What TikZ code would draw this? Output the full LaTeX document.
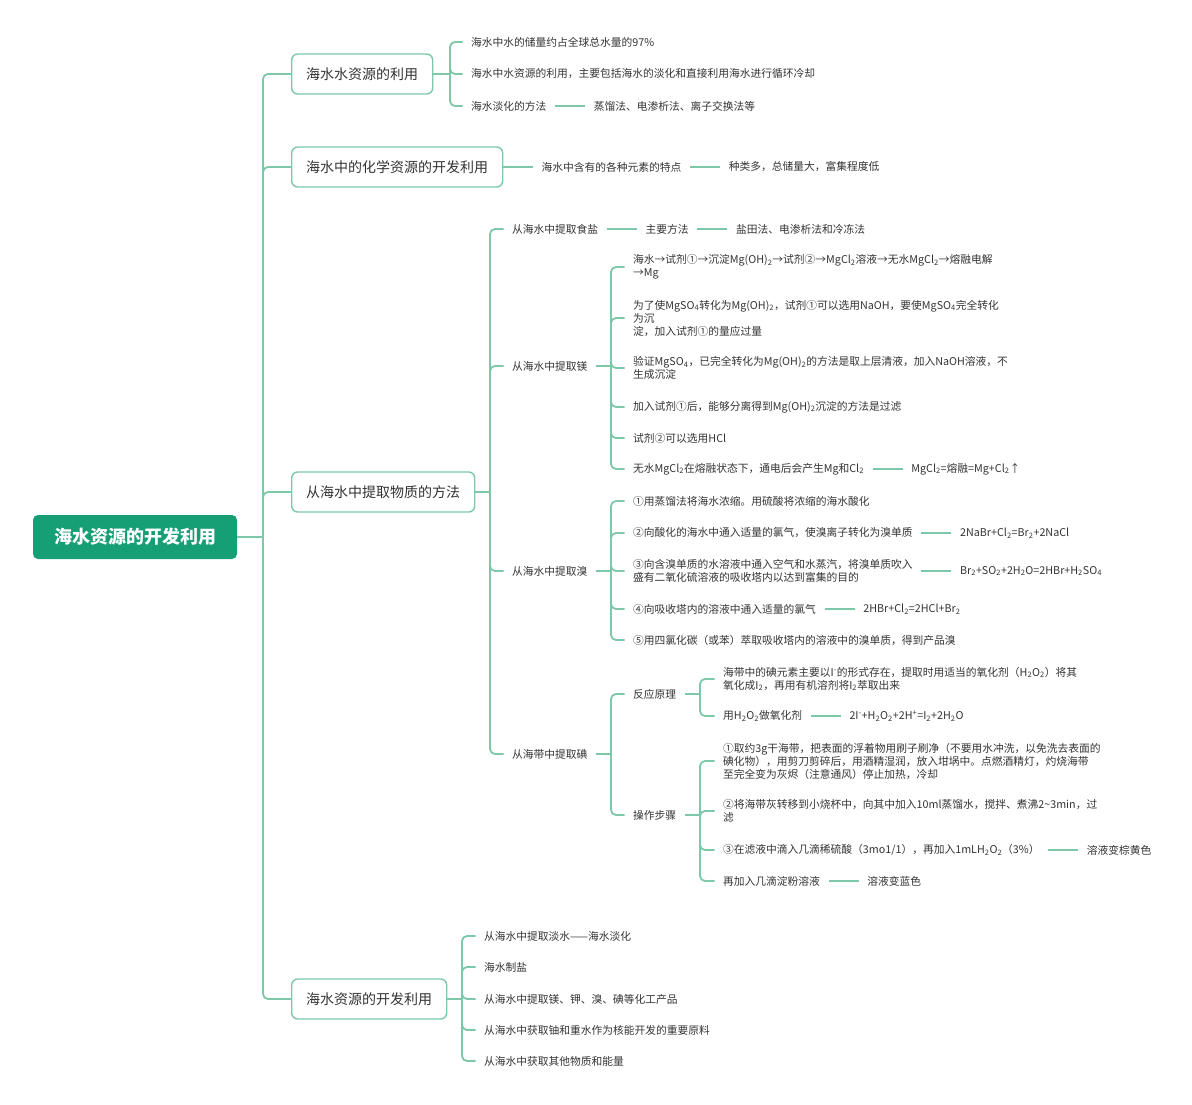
\documentclass[tikz,border=0pt]{standalone}
\usepackage{fontspec}
\setmainfont{Noto Sans CJK SC}
\usetikzlibrary{positioning}
\definecolor{lnc}{HTML}{7CC8A8}
\definecolor{rootc}{HTML}{169E74}
\definecolor{txt}{HTML}{333333}
\newcommand\xsb[1]{\textsubscript{#1}}
\newcommand\xsp[1]{\textsuperscript{#1}}
\begin{document}
\begin{tikzpicture}[x=1pt,y=-1pt,
  conn/.style={draw=lnc, line width=1.8pt, rounded corners=5pt},
  rootbox/.style={fill=rootc, rounded corners=5pt, text=white, font=\fontsize{18}{22}\selectfont\bfseries, minimum height=44pt, inner xsep=21pt},
  topbox/.style={draw=lnc, line width=1.4pt, rounded corners=6pt, fill=white, text=txt, font=\fontsize{14}{17}\selectfont, minimum height=40pt, inner xsep=14.5pt, anchor=west},
  leaf/.style={anchor=west, inner xsep=8.5pt, inner ysep=1pt, text=txt, font=\fontsize{10.75}{13}\selectfont, align=left},
  nxt/.style={leaf, right=30pt of #1},
]
\useasboundingbox (0,0) rectangle (1192,1105);

% root and level 1
\node[rootbox] (root) at (135,537) {海水资源的开发利用};
\node[topbox] (b1) at (291,74) {海水水资源的利用};
\node[topbox] (b2) at (291,167) {海水中的化学资源的开发利用};
\node[topbox] (b3) at (291,492) {从海水中提取物质的方法};
\node[topbox] (b4) at (291,999) {海水资源的开发利用};
\coordinate (tr) at (263,537);
\draw[conn] (root.east) -- (tr);
\foreach \b in {b1,b2,b3,b4} \draw[conn] (tr) |- (\b.west);

% group 1
\node[leaf] (a1) at (462.5,42) {海水中水的储量约占全球总水量的97\%};
\node[leaf] (a2) at (462.5,74) {海水中水资源的利用，主要包括海水的淡化和直接利用海水进行循环冷却};
\node[leaf] (a3) at (462.5,106) {海水淡化的方法};
\node[nxt=a3] (a3b) {蒸馏法、电渗析法、离子交换法等};
\draw[conn] (a3.east) -- (a3b.west);
\coordinate (k1) at (450,74);
\draw[conn] (b1.east) -- (k1);
\foreach \c in {a1,a2,a3} \draw[conn] (k1) |- (\c.west);

% group 2
\node[leaf, right=29.5pt of b2] (c1) {海水中含有的各种元素的特点};
\node[nxt=c1] (c2) {种类多，总储量大，富集程度低};
\draw[conn] (b2.east) -- (c1.west);
\draw[conn] (c1.east) -- (c2.west);

% group 3
\node[leaf] (s1) at (503.5,229) {从海水中提取食盐};
\node[nxt=s1] (s1b) {主要方法};
\node[nxt=s1b] (s1c) {盐田法、电渗析法和冷冻法};
\draw[conn] (s1.east) -- (s1b.west);
\draw[conn] (s1b.east) -- (s1c.west);
\node[leaf] (mg) at (503.5,366) {从海水中提取镁};
\node[leaf] (br) at (503.5,571) {从海水中提取溴};
\node[leaf] (io) at (503.5,754) {从海带中提取碘};
\coordinate (k3) at (490,492);
\draw[conn] (b3.east) -- (k3);
\foreach \c in {s1,mg,br,io} \draw[conn] (k3) |- (\c.west);

% magnesium
\node[leaf] (m1) at (624.5,267) {海水→试剂①→沉淀Mg(OH)\xsb{2}→试剂②→MgCl\xsb{2}溶液→无水MgCl\xsb{2}→熔融电解\\→Mg};
\node[leaf] (m2) at (624.5,318) {为了使MgSO\xsb{4}转化为Mg(OH)\xsb{2}，试剂①可以选用NaOH，要使MgSO\xsb{4}完全转化\\为沉\\淀，加入试剂①的量应过量};
\node[leaf] (m3) at (624.5,368) {验证MgSO\xsb{4}，已完全转化为Mg(OH)\xsb{2}的方法是取上层清液，加入NaOH溶液，不\\生成沉淀};
\node[leaf] (m4) at (624.5,407) {加入试剂①后，能够分离得到Mg(OH)\xsb{2}沉淀的方法是过滤};
\node[leaf] (m5) at (624.5,438) {试剂②可以选用HCl};
\node[leaf] (m6) at (624.5,469) {无水MgCl\xsb{2}在熔融状态下，通电后会产生Mg和Cl\xsb{2}};
\node[nxt=m6] (m6b) {MgCl\xsb{2}=熔融=Mg+Cl\xsb{2}↑};
\draw[conn] (m6.east) -- (m6b.west);
\coordinate (kmg) at (611,366);
\draw[conn] (mg.east) -- (kmg);
\foreach \c in {m1,m2,m3,m4,m5,m6} \draw[conn] (kmg) |- (\c.west);

% bromine
\node[leaf] (r1) at (624.5,501) {①用蒸馏法将海水浓缩。用硫酸将浓缩的海水酸化};
\node[leaf] (r2) at (624.5,533) {②向酸化的海水中通入适量的氯气，使溴离子转化为溴单质};
\node[nxt=r2] (r2b) {2NaBr+Cl\xsb{2}=Br\xsb{2}+2NaCl};
\node[leaf] (r3) at (624.5,571) {③向含溴单质的水溶液中通入空气和水蒸汽，将溴单质吹入\\盛有二氧化硫溶液的吸收塔内以达到富集的目的};
\node[nxt=r3] (r3b) {Br\xsb{2}+SO\xsb{2}+2H\xsb{2}O=2HBr+H\xsb{2}SO\xsb{4}};
\node[leaf] (r4) at (624.5,609) {④向吸收塔内的溶液中通入适量的氯气};
\node[nxt=r4] (r4b) {2HBr+Cl\xsb{2}=2HCl+Br\xsb{2}};
\node[leaf] (r5) at (624.5,640) {⑤用四氯化碳（或苯）萃取吸收塔内的溶液中的溴单质，得到产品溴};
\draw[conn] (r2.east) -- (r2b.west);
\draw[conn] (r3.east) -- (r3b.west);
\draw[conn] (r4.east) -- (r4b.west);
\coordinate (kbr) at (611,571);
\draw[conn] (br.east) -- (kbr);
\foreach \c in {r1,r2,r3,r4,r5} \draw[conn] (kbr) |- (\c.west);

% iodine
\node[leaf] (i1) at (624.5,694) {反应原理};
\node[leaf] (i2) at (624.5,815) {操作步骤};
\coordinate (kio) at (611,754);
\draw[conn] (io.east) -- (kio);
\foreach \c in {i1,i2} \draw[conn] (kio) |- (\c.west);

\node[leaf] (i11) at (714.5,679) {海带中的碘元素主要以I\xsp{-}的形式存在，提取时用适当的氧化剂（H\xsb{2}O\xsb{2}）将其\\氧化成I\xsb{2}，再用有机溶剂将I\xsb{2}萃取出来};
\node[leaf] (i12) at (714.5,716) {用H\xsb{2}O\xsb{2}做氧化剂};
\node[nxt=i12] (i12b) {2I\xsp{-}+H\xsb{2}O\xsb{2}+2H\xsp{+}=I\xsb{2}+2H\xsb{2}O};
\draw[conn] (i12.east) -- (i12b.west);
\coordinate (ki1) at (700,694);
\draw[conn] (i1.east) -- (ki1);
\foreach \c in {i11,i12} \draw[conn] (ki1) |- (\c.west);

\node[leaf] (i21) at (714.5,761) {①取约3g干海带，把表面的浮着物用刷子刷净（不要用水冲洗，以免洗去表面的\\碘化物），用剪刀剪碎后，用酒精湿润，放入坩埚中。点燃酒精灯，灼烧海带\\至完全变为灰烬（注意通风）停止加热，冷却};
\node[leaf] (i22) at (714.5,811) {②将海带灰转移到小烧杯中，向其中加入10ml蒸馏水，搅拌、煮沸2\textasciitilde3min，过\\滤};
\node[leaf] (i23) at (714.5,850) {③在滤液中滴入几滴稀硫酸（3mo1/1），再加入1mLH\xsb{2}O\xsb{2}（3\%）};
\node[nxt=i23] (i23b) {溶液变棕黄色};
\node[leaf] (i24) at (714.5,881) {再加入几滴淀粉溶液};
\node[nxt=i24] (i24b) {溶液变蓝色};
\draw[conn] (i23.east) -- (i23b.west);
\draw[conn] (i24.east) -- (i24b.west);
\coordinate (ki2) at (700,815);
\draw[conn] (i2.east) -- (ki2);
\foreach \c in {i21,i22,i23,i24} \draw[conn] (ki2) |- (\c.west);

% group 4
\node[leaf] (f1) at (475.5,936) {从海水中提取淡水——海水淡化};
\node[leaf] (f2) at (475.5,967) {海水制盐};
\node[leaf] (f3) at (475.5,999) {从海水中提取镁、钾、溴、碘等化工产品};
\node[leaf] (f4) at (475.5,1030) {从海水中获取铀和重水作为核能开发的重要原料};
\node[leaf] (f5) at (475.5,1061) {从海水中获取其他物质和能量};
\coordinate (k4) at (462,999);
\draw[conn] (b4.east) -- (k4);
\foreach \c in {f1,f2,f3,f4,f5} \draw[conn] (k4) |- (\c.west);
\end{tikzpicture}
\end{document}
